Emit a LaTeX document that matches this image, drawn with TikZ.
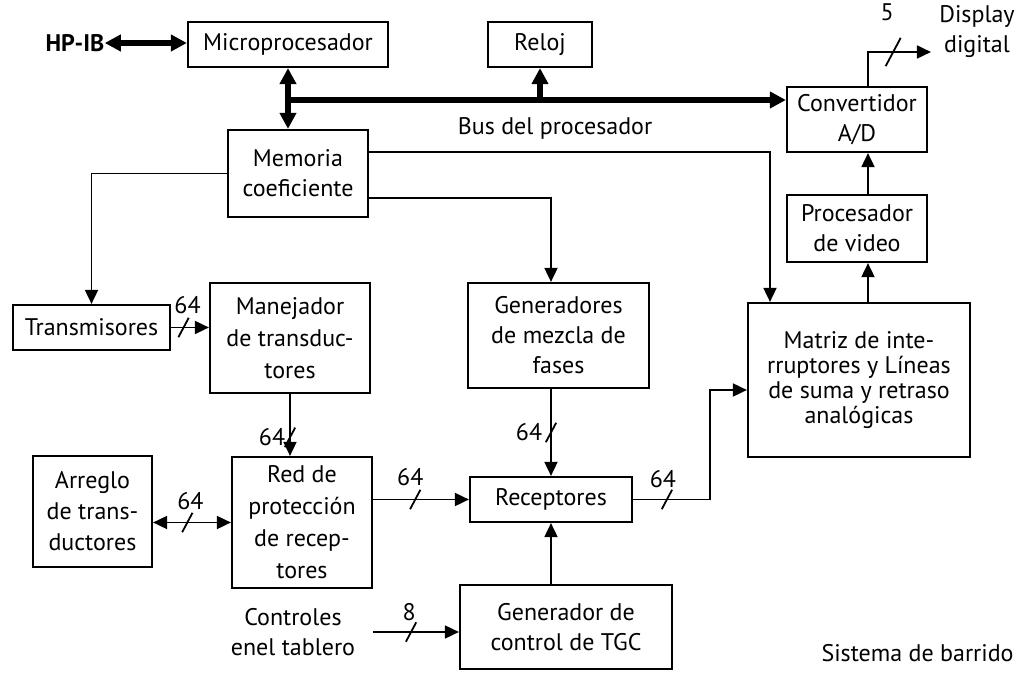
\documentclass[tikz,border=0pt]{standalone}
\usepackage{fontspec}
\setmainfont{PT Sans}
\usetikzlibrary{positioning, arrows.meta, calc}

\begin{document}
\begin{tikzpicture}[
                x=0.5pt, y=-0.5pt,
                font=\fontsize{12}{15}\selectfont,
                block/.style={
                    draw=black, line width=1.1pt,
                    inner sep=0pt,
                    align=center
                },
                sig/.style={
                    draw=black, line width=0.9pt,
                    -{Triangle[length=7pt, width=6.5pt]}
                },
                sigboth/.style={
                    sig,
                    {Triangle[length=7pt, width=6.5pt]}-{Triangle[length=7pt, width=6.5pt]}
                },
                bus/.style={
                    draw=black, line width=2.6pt,
                    -{Triangle[length=8pt, width=8pt]}
                },
                busboth/.style={
                    bus,
                    {Triangle[length=8pt, width=8pt]}-{Triangle[length=8pt, width=8pt]}
                },
                slash/.style={
                    draw=black, line width=0.9pt,
                    inner sep=0pt, minimum width=0pt, minimum height=11pt,
                    rotate=-28
                },
                count/.style={
                    inner sep=0pt
                }
            ]

            \path[use as bounding box, fill=white] (0,0) rectangle (1019,673);

            % --- Bloques ---
            \node[block, minimum width=100pt, minimum height=22.5pt] (micro) at (288,44.5) {Microprocesador};
            \node[font=\fontsize{12}{15}\selectfont\bfseries, inner sep=0pt] (hpib) at (75,43) {HP-IB};
            \node[block, minimum width=52pt, minimum height=22.5pt] (reloj) at (540,44.5) {Reloj};
            \node[block, minimum width=70pt, minimum height=32.5pt] (conv) at (857,119.5) {Convertidor\\A/D};
            \node[inner sep=0pt, align=center] (disp) at (977,32) {Display\\digital};
            \node[block, minimum width=70pt, minimum height=43.5pt] (mem) at (298,173.5) {Memoria\\coeficiente};
            \node[block, minimum width=70pt, minimum height=33.5pt] (video) at (857,228.5) {Procesador\\de video};
            \node[block, minimum width=78.5pt, minimum height=22.5pt] (trans) at (91.5,327.5) {Transmisores};
            \node[block, minimum width=80pt, minimum height=55pt, font=\fontsize{12}{16}\selectfont] (manej) at (290,338) {Manejador\\de transduc-\\tores};
            \node[block, minimum width=90.5pt, minimum height=52.5pt] (gener) at (558.5,335.5) {Generadores\\de mezcla de\\fases};
            \node[block, minimum width=111pt, minimum height=77pt, font=\fontsize{12}{12.5}\selectfont] (matriz) at (859,380) {Matriz de inte-\\rruptores y Líneas\\de suma y retraso\\analógicas};
            \node[block, minimum width=59.5pt, minimum height=55.5pt, font=\fontsize{12}{15.5}\selectfont] (arreglo) at (92.5,511.5) {Arreglo\\de trans-\\ductores};
            \node[block, minimum width=70pt, minimum height=65.5pt, font=\fontsize{12}{16}\selectfont] (red) at (302,522.5) {Red de\\protección\\de recep-\\tores};
            \node[block, minimum width=81pt, minimum height=22.5pt] (recep) at (551,499.5) {Receptores};
            \node[block, minimum width=106pt, minimum height=42pt] (tgc) at (566,627) {Generador de\\control de TGC};
            \node[inner sep=0pt, align=center] (ctrl) at (293,632) {Controles\\enel tablero};
            \node[anchor=base east, inner sep=0pt] (sist) at (1014,662) {Sistema de barrido};

            % --- Bus del procesador ---
            \coordinate (busL) at (288,100);
            \coordinate (colM) at (770,0);
            \coordinate (colV) at (868,0);
            \coordinate (mx) at (710,390);

            \draw[busboth] (hpib.east) -- (hpib.east -| micro.west);
            \draw[busboth] (micro.south) -- (micro.south |- mem.north);
            \draw[bus] (busL) -- (busL -| conv.west);
            \draw[bus] (busL -| reloj.south) -- (reloj.south);
            \node (buslbl) at (555,128) {Bus del procesador};

            % --- Salidas de la memoria ---
            \draw[sig] ([yshift=-11.5pt]mem.north east) -| (colM |- matriz.north);
            \draw[sig] ([yshift=10pt]mem.south east) -| (recep.north |- gener.north);
            \draw[sig] (mem.west) -| (trans.north);

            % --- Cadena de video ---
            \draw[sig] (colV |- matriz.north) -- (colV |- video.south);
            \draw[sig] (colV |- video.north) -- (colV |- conv.south);
            \draw[sig] (colV |- conv.north) |- node[slash, pos=.7, minimum height=16pt]{} node[count, pos=.7, xshift=-3pt, yshift=20pt]{5} ([xshift=-4pt, yshift=-10pt]disp.west);

            % --- Transmision y recepcion ---
            \draw[sig] (trans.east) -- node[slash, pos=.33]{} node[count, pos=.33, xshift=2pt, yshift=11pt]{64} (trans.east -| manej.west);
            \draw[sig] (manej.south) -- node[slash, pos=.7]{} node[count, pos=.7, xshift=-9pt]{64} (manej.south |- red.north);
            \draw[sigboth] (arreglo.east |- red.west) -- node[slash, pos=.44]{} node[count, pos=.44, xshift=1.5pt, yshift=10.5pt]{64} (red.west);
            \draw[sig] (red.east |- recep.west) -- node[slash, pos=.44]{} node[count, pos=.44, xshift=-2.5pt, yshift=11pt]{64} (recep.west);
            \draw[sig] (gener.south -| recep.north) -- node[slash, pos=.5]{} node[count, pos=.5, xshift=-11pt]{64} (recep.north);
            \draw[sig] (recep.east) -| node[slash, pos=.22]{} node[count, pos=.22, xshift=-2pt, yshift=10pt]{64} (mx) -- (mx -| matriz.west);
            \draw[sig] (tgc.north -| recep.south) -- (recep.south);
            \draw[sig] ([xshift=9pt]ctrl.east) -- node[slash, pos=.44]{} node[count, pos=.44, xshift=-1pt, yshift=10pt]{8} (ctrl.east -| tgc.west);

        \end{tikzpicture}
\end{document}
